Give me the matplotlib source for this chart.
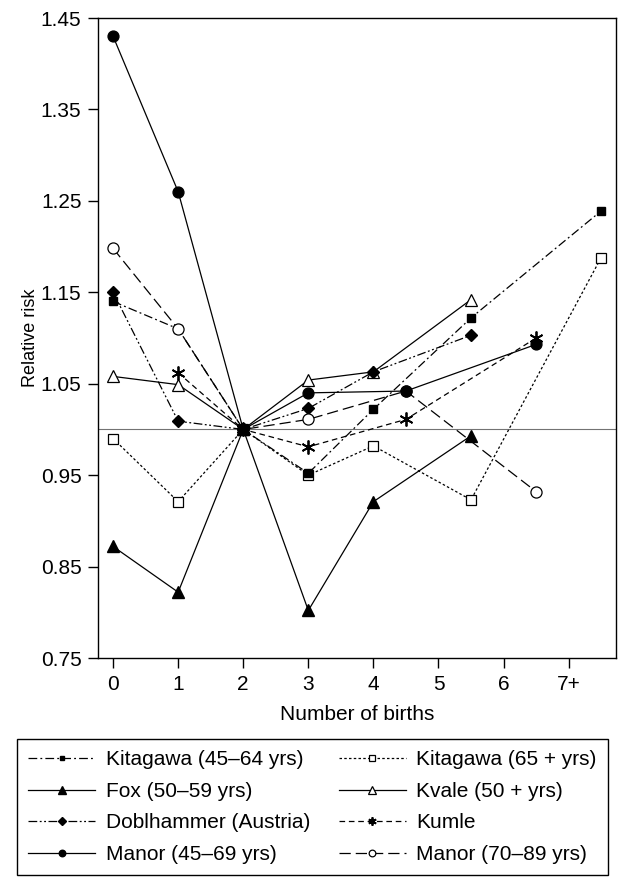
import matplotlib
matplotlib.use("Agg")
import matplotlib.pyplot as plt

plt.rcParams['font.family'] = ['Liberation Sans', 'DejaVu Sans']

# categories (5-6 plotted at 5.5, 4-5 at 4.5, 6+ at 6.5, 7+ at 7.5)
xticks = [0, 1, 2, 3, 4, 5, 6, 7]
xticklabels = ['0', '1', '2', '3', '4', '5', '6', '7+']
yticks = [0.75, 0.85, 0.95, 1.05, 1.15, 1.25, 1.35, 1.45]

kit45_x = [0, 1, 2, 3, 4, 5.5, 7.5]
kit45_y = [1.14, 1.11, 1.00, 0.952, 1.022, 1.122, 1.239]

kit65_x = [0, 1, 2, 3, 4, 5.5, 7.5]
kit65_y = [0.99, 0.921, 1.00, 0.95, 0.982, 0.923, 1.188]

fox_x = [0, 1, 2, 3, 4, 5.5]
fox_y = [0.872, 0.822, 1.00, 0.802, 0.921, 0.993]

kvale_x = [0, 1, 2, 3, 4, 5.5]
kvale_y = [1.058, 1.049, 1.00, 1.054, 1.063, 1.142]

dobl_x = [0, 1, 2, 3, 4, 5.5]
dobl_y = [1.15, 1.009, 1.00, 1.023, 1.063, 1.103]

kumle_x = [1, 2, 3, 4.5, 6.5]
kumle_y = [1.062, 1.00, 0.981, 1.011, 1.10]

manor45_x = [0, 1, 2, 3, 4.5, 6.5]
manor45_y = [1.43, 1.26, 1.00, 1.04, 1.042, 1.093]

manor70_x = [0, 1, 2, 3, 4.5, 6.5]
manor70_y = [1.198, 1.11, 1.00, 1.011, 1.042, 0.932]

fig = plt.figure(figsize=(6.25, 8.83), dpi=100)
ax = fig.add_axes([0.157, 0.2548, 0.8288, 0.7248])

ax.axhline(1.0, color='0.45', lw=0.8, zorder=1)

lw = 0.9
h_kit65, = ax.plot(kit65_x, kit65_y, color='k', lw=lw, ls=(0, (2, 1.8)),
                   marker='s', ms=6.5, mfc='white', mec='k', mew=0.9, zorder=2,
                   label='Kitagawa (65 + yrs)')
h_kit45, = ax.plot(kit45_x, kit45_y, color='k', lw=lw, ls=(0, (7, 2.5, 1.5, 2.5)),
                   marker='s', ms=5.8, mfc='k', mec='k', zorder=3,
                   label='Kitagawa (45\u201364 yrs)')
h_kvale, = ax.plot(kvale_x, kvale_y, color='k', lw=lw, ls='-',
                   marker='^', ms=9, mfc='white', mec='k', mew=0.9, zorder=4,
                   label='Kvale (50 + yrs)')
h_dobl, = ax.plot(dobl_x, dobl_y, color='k', lw=lw, ls=(0, (7, 2, 1.5, 2, 1.5, 2)),
                  marker='D', ms=6.5, mfc='k', mec='k', zorder=5,
                  label='Doblhammer (Austria)')
h_fox, = ax.plot(fox_x, fox_y, color='k', lw=lw, ls='-',
                 marker='^', ms=9, mfc='k', mec='k', zorder=6,
                 label='Fox (50\u201359 yrs)')
h_kumle, = ax.plot(kumle_x, kumle_y, color='k', lw=lw, ls=(0, (4.5, 3)),
                   marker=(6, 2, 0), ms=10, mec='k', mew=1.3, zorder=7,
                   label='Kumle')
h_man70, = ax.plot(manor70_x, manor70_y, color='k', lw=lw, ls=(0, (9, 4)),
                   marker='o', ms=8, mfc='white', mec='k', mew=0.9, zorder=8,
                   label='Manor (70\u201389 yrs)')
h_man45, = ax.plot(manor45_x, manor45_y, color='k', lw=lw, ls='-',
                   marker='o', ms=7.8, mfc='k', mec='k', zorder=9,
                   label='Manor (45\u201369 yrs)')

ax.set_xlim(-0.23, 7.73)
ax.set_ylim(0.75, 1.45)
ax.set_xticks(xticks)
ax.set_xticklabels(xticklabels)
ax.set_yticks(yticks)
ax.set_yticklabels(['%.2f' % v for v in yticks])
ax.tick_params(direction='out', length=7, width=1, labelsize=15, pad=5,
               top=False, right=False)
for s in ax.spines.values():
    s.set_linewidth(1)

ax.set_xlabel('Number of births', fontsize=15, labelpad=8)
ax.set_ylabel('Relative risk', fontsize=13, labelpad=1)

handles = [h_kit45, h_fox, h_dobl, h_man45, h_kit65, h_kvale, h_kumle, h_man70]
leg = fig.legend(handles=handles, labels=[h.get_label() for h in handles],
                 ncol=2, loc='upper left', bbox_to_anchor=(17 / 625, 1 - 739 / 883),
                 borderaxespad=0, fontsize=15, frameon=True, fancybox=False,
                 edgecolor='k', framealpha=1, handlelength=3.2, handletextpad=0.5,
                 columnspacing=1.4, labelspacing=0.6, borderpad=0.55, markerscale=0.6)
leg.get_frame().set_linewidth(1)

fig.savefig('out.png', dpi=100)
